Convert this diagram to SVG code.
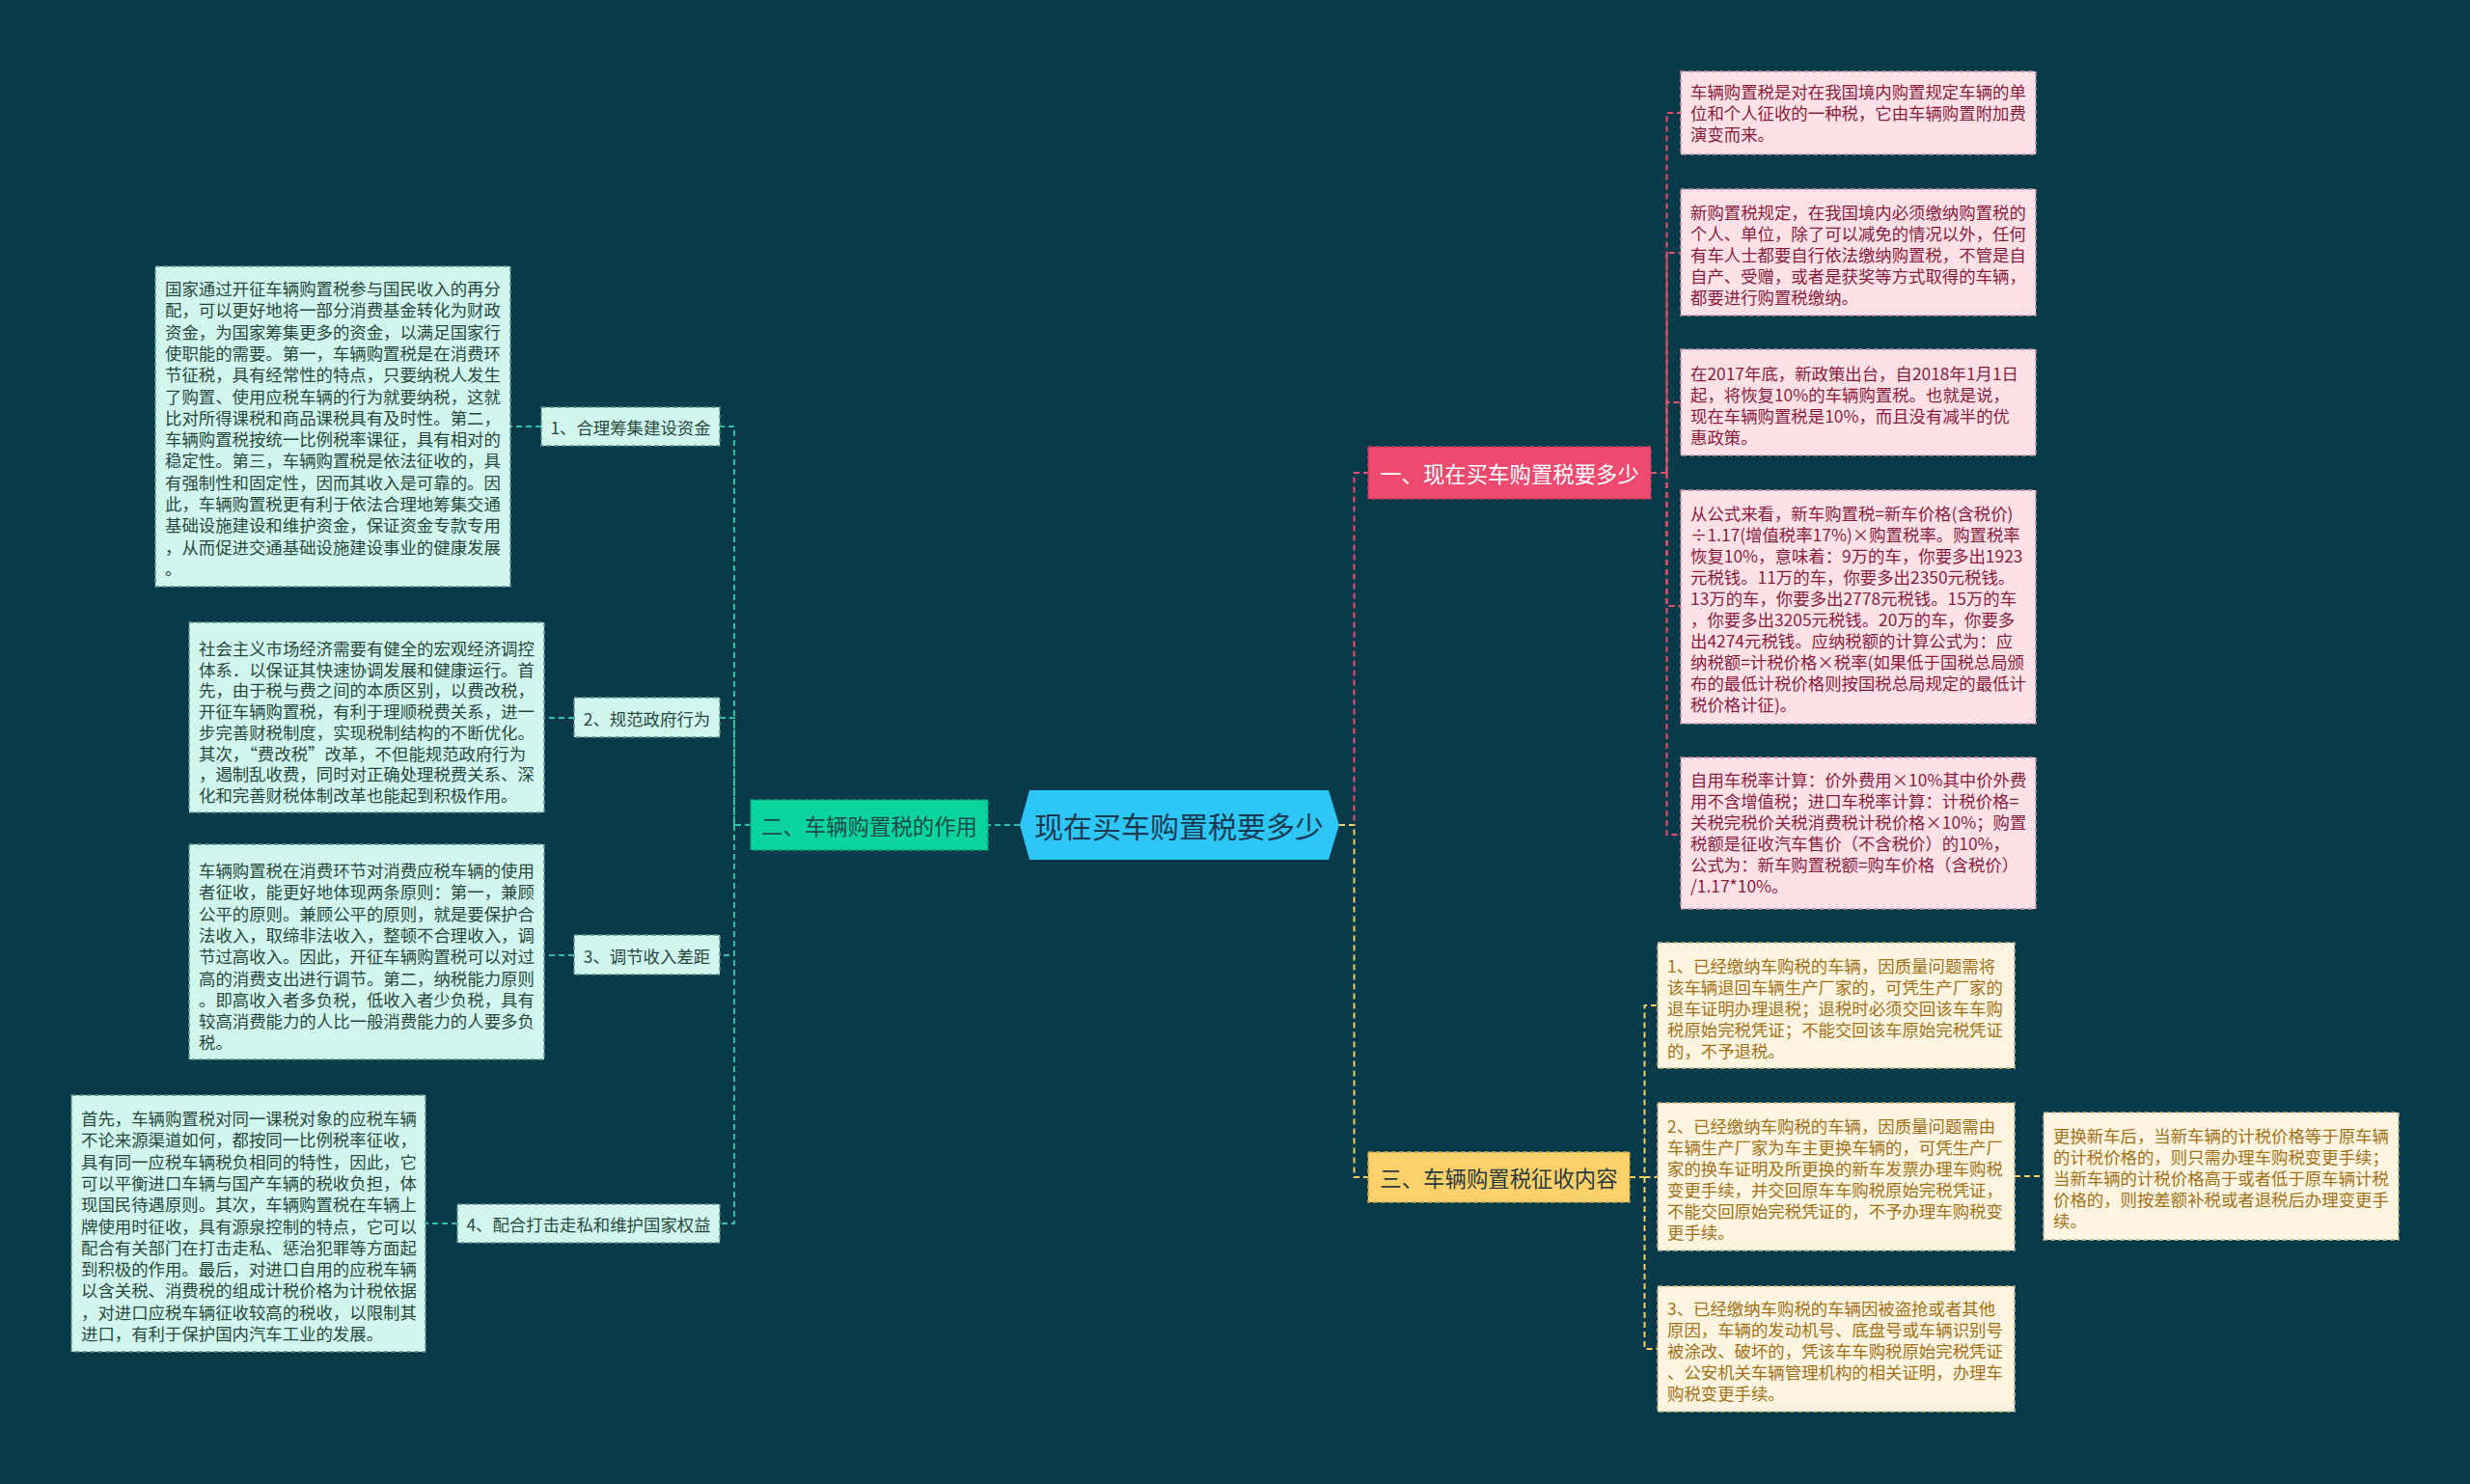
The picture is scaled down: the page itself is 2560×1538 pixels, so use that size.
<svg xmlns="http://www.w3.org/2000/svg" width="2560" height="1538" viewBox="0 0 2560 1538">
<style>
text{font-family:"Noto Sans CJK SC","Noto Sans",sans-serif;dominant-baseline:central}
.t{font-size:17.4px}
.mint{fill:#d0f6ed;stroke:#5d9289;stroke-width:1.5;stroke-dasharray:5 3}
.mt{fill:#29493f}
.pink{fill:#fde1e7;stroke:#c4919c;stroke-width:1.5;stroke-dasharray:5 3}
.pt{fill:#8a1c3e}
.yel{fill:#fdf5df;stroke:#c2b48c;stroke-width:1.5;stroke-dasharray:5 3}
.yt{fill:#a2711a}
.c{fill:none;stroke-width:2;stroke-dasharray:6 4}
.cg{stroke:#2cc3a2}
.cp{stroke:#e8506f}
.cy{stroke:#f3cf64}
</style>
<rect width="2560" height="1538" fill="#083a4a"/>

<g id="connectors">
  <path class="c cg" d="M1057 855 H1024"/>
  <path class="c cg" d="M778 855 H761 V442 H746"/>
  <path class="c cg" d="M761 855 V744 H746"/>
  <path class="c cg" d="M761 855 V990 H746"/>
  <path class="c cg" d="M761 855 V1268 H746"/>
  <path class="c cg" d="M561 442 H529"/>
  <path class="c cg" d="M595 744 H564"/>
  <path class="c cg" d="M595 990 H564"/>
  <path class="c cg" d="M474 1268 H441"/>
  <path class="c cp" d="M1388 855 H1403.5 V490 H1418"/>
  <path class="c cy" d="M1388 855 H1403.5 V1220 H1418"/>
  <path class="c cp" d="M1711 490 H1727.5 V117 H1742"/>
  <path class="c cp" d="M1727.5 490 V262 H1742"/>
  <path class="c cp" d="M1727.5 490 V417 H1742"/>
  <path class="c cp" d="M1727.5 490 V628 H1742"/>
  <path class="c cp" d="M1727.5 490 V865 H1742"/>
  <path class="c cy" d="M1689 1220 H1704.5 V1042 H1718"/>
  <path class="c cy" d="M1704.5 1220 H1718"/>
  <path class="c cy" d="M1704.5 1220 V1398 H1718"/>
  <path class="c cy" d="M2088 1219 H2118"/>
</g>

<g id="center">
  <polygon points="1057,855 1067,819 1377,819 1388,855 1377,891 1067,891" fill="#2ec6f7"/>
  <text x="1222" y="855" text-anchor="middle" font-size="30" fill="#173a50">现在买车购置税要多少</text>
</g>

<g id="n2">
  <rect x="778" y="829" width="246" height="52" fill="#0cd49f" stroke="#0a9f7a" stroke-width="1.5" stroke-dasharray="5 3"/>
  <text x="901" y="855" text-anchor="middle" font-size="22.4" fill="#1b4b4b">二、车辆购置税的作用</text>
</g>

<g id="n1">
  <rect x="1418" y="463" width="293" height="54" fill="#ee4a6f" stroke="#c23a5a" stroke-width="1.5" stroke-dasharray="5 3"/>
  <text x="1564.5" y="490" text-anchor="middle" font-size="22.4" fill="#ffffff">一、现在买车购置税要多少</text>
</g>

<g id="n3">
  <rect x="1418" y="1194" width="271" height="52" fill="#fdd16a" stroke="#c9a24a" stroke-width="1.5" stroke-dasharray="5 3"/>
  <text x="1553.5" y="1220" text-anchor="middle" font-size="22.4" fill="#2b3a40">三、车辆购置税征收内容</text>
</g>

<g id="l1">
  <rect class="mint" x="561" y="422" width="185" height="40"/>
  <text class="t mt" x="653.5" y="442" text-anchor="middle">1、合理筹集建设资金</text>
</g>
<g id="l2">
  <rect class="mint" x="595" y="723" width="151" height="41"/>
  <text class="t mt" x="670.5" y="744" text-anchor="middle">2、规范政府行为</text>
</g>
<g id="l3">
  <rect class="mint" x="595" y="969" width="151" height="41"/>
  <text class="t mt" x="670.5" y="990" text-anchor="middle">3、调节收入差距</text>
</g>
<g id="l4">
  <rect class="mint" x="474" y="1248" width="272" height="40"/>
  <text class="t mt" x="610" y="1268" text-anchor="middle">4、配合打击走私和维护国家权益</text>
</g>

<g id="lb1">
  <rect class="mint" x="161" y="276" width="368" height="332"/>
  <text class="t mt" x="171" y="298">
    <tspan x="171" y="298">国家通过开征车辆购置税参与国民收入的再分</tspan>
    <tspan x="171" dy="22.3">配，可以更好地将一部分消费基金转化为财政</tspan>
    <tspan x="171" dy="22.3">资金，为国家筹集更多的资金，以满足国家行</tspan>
    <tspan x="171" dy="22.3">使职能的需要。第一，车辆购置税是在消费环</tspan>
    <tspan x="171" dy="22.3">节征税，具有经常性的特点，只要纳税人发生</tspan>
    <tspan x="171" dy="22.3">了购置、使用应税车辆的行为就要纳税，这就</tspan>
    <tspan x="171" dy="22.3">比对所得课税和商品课税具有及时性。第二，</tspan>
    <tspan x="171" dy="22.3">车辆购置税按统一比例税率课征，具有相对的</tspan>
    <tspan x="171" dy="22.3">稳定性。第三，车辆购置税是依法征收的，具</tspan>
    <tspan x="171" dy="22.3">有强制性和固定性，因而其收入是可靠的。因</tspan>
    <tspan x="171" dy="22.3">此，车辆购置税更有利于依法合理地筹集交通</tspan>
    <tspan x="171" dy="22.3">基础设施建设和维护资金，保证资金专款专用</tspan>
    <tspan x="171" dy="22.3">，从而促进交通基础设施建设事业的健康发展</tspan>
    <tspan x="171" dy="22.3">。</tspan>
  </text>
</g>

<g id="lb2">
  <rect class="mint" x="196" y="645" width="368" height="197"/>
  <text class="t mt">
    <tspan x="206" y="671">社会主义市场经济需要有健全的宏观经济调控</tspan>
    <tspan x="206" dy="21.7">体系．以保证其快速协调发展和健康运行。首</tspan>
    <tspan x="206" dy="21.7">先，由于税与费之间的本质区别，以费改税，</tspan>
    <tspan x="206" dy="21.7">开征车辆购置税，有利于理顺税费关系，进一</tspan>
    <tspan x="206" dy="21.7">步完善财税制度，实现税制结构的不断优化。</tspan>
    <tspan x="206" dy="21.7">其次，“费改税”改革，不但能规范政府行为</tspan>
    <tspan x="206" dy="21.7">，遏制乱收费，同时对正确处理税费关系、深</tspan>
    <tspan x="206" dy="21.7">化和完善财税体制改革也能起到积极作用。</tspan>
  </text>
</g>

<g id="lb3">
  <rect class="mint" x="196" y="875" width="368" height="223"/>
  <text class="t mt">
    <tspan x="206" y="901">车辆购置税在消费环节对消费应税车辆的使用</tspan>
    <tspan x="206" dy="22.3">者征收，能更好地体现两条原则：第一，兼顾</tspan>
    <tspan x="206" dy="22.3">公平的原则。兼顾公平的原则，就是要保护合</tspan>
    <tspan x="206" dy="22.3">法收入，取缔非法收入，整顿不合理收入，调</tspan>
    <tspan x="206" dy="22.3">节过高收入。因此，开征车辆购置税可以对过</tspan>
    <tspan x="206" dy="22.3">高的消费支出进行调节。第二，纳税能力原则</tspan>
    <tspan x="206" dy="22.3">。即高收入者多负税，低收入者少负税，具有</tspan>
    <tspan x="206" dy="22.3">较高消费能力的人比一般消费能力的人要多负</tspan>
    <tspan x="206" dy="22.3">税。</tspan>
  </text>
</g>

<g id="lb4">
  <rect class="mint" x="74" y="1135" width="367" height="266"/>
  <text class="t mt">
    <tspan x="84" y="1158">首先，车辆购置税对同一课税对象的应税车辆</tspan>
    <tspan x="84" dy="22.3">不论来源渠道如何，都按同一比例税率征收，</tspan>
    <tspan x="84" dy="22.3">具有同一应税车辆税负相同的特性，因此，它</tspan>
    <tspan x="84" dy="22.3">可以平衡进口车辆与国产车辆的税收负担，体</tspan>
    <tspan x="84" dy="22.3">现国民待遇原则。其次，车辆购置税在车辆上</tspan>
    <tspan x="84" dy="22.3">牌使用时征收，具有源泉控制的特点，它可以</tspan>
    <tspan x="84" dy="22.3">配合有关部门在打击走私、惩治犯罪等方面起</tspan>
    <tspan x="84" dy="22.3">到积极的作用。最后，对进口自用的应税车辆</tspan>
    <tspan x="84" dy="22.3">以含关税、消费税的组成计税价格为计税依据</tspan>
    <tspan x="84" dy="22.3">，对进口应税车辆征收较高的税收，以限制其</tspan>
    <tspan x="84" dy="22.3">进口，有利于保护国内汽车工业的发展。</tspan>
  </text>
</g>

<g id="pb1">
  <rect class="pink" x="1742" y="74" width="368" height="86"/>
  <text class="t pt">
    <tspan x="1752" y="94">车辆购置税是对在我国境内购置规定车辆的单</tspan>
    <tspan x="1752" dy="22">位和个人征收的一种税，它由车辆购置附加费</tspan>
    <tspan x="1752" dy="22">演变而来。</tspan>
  </text>
</g>

<g id="pb2">
  <rect class="pink" x="1742" y="196" width="368" height="131"/>
  <text class="t pt">
    <tspan x="1752" y="219">新购置税规定，在我国境内必须缴纳购置税的</tspan>
    <tspan x="1752" dy="22">个人、单位，除了可以减免的情况以外，任何</tspan>
    <tspan x="1752" dy="22">有车人士都要自行依法缴纳购置税，不管是自</tspan>
    <tspan x="1752" dy="22">自产、受赠，或者是获奖等方式取得的车辆，</tspan>
    <tspan x="1752" dy="22">都要进行购置税缴纳。</tspan>
  </text>
</g>

<g id="pb3">
  <rect class="pink" x="1742" y="362" width="368" height="110"/>
  <text class="t pt">
    <tspan x="1752" y="386">在2017年底，新政策出台，自2018年1月1日</tspan>
    <tspan x="1752" dy="22">起，将恢复10%的车辆购置税。也就是说，</tspan>
    <tspan x="1752" dy="22">现在车辆购置税是10%，而且没有减半的优</tspan>
    <tspan x="1752" dy="22">惠政策。</tspan>
  </text>
</g>

<g id="pb4">
  <rect class="pink" x="1742" y="508" width="368" height="242"/>
  <text class="t pt">
    <tspan x="1752" y="531">从公式来看，新车购置税=新车价格(含税价)</tspan>
    <tspan x="1752" dy="22">÷1.17(增值税率17%)×购置税率。购置税率</tspan>
    <tspan x="1752" dy="22">恢复10%，意味着：9万的车，你要多出1923</tspan>
    <tspan x="1752" dy="22">元税钱。11万的车，你要多出2350元税钱。</tspan>
    <tspan x="1752" dy="22">13万的车，你要多出2778元税钱。15万的车</tspan>
    <tspan x="1752" dy="22">，你要多出3205元税钱。20万的车，你要多</tspan>
    <tspan x="1752" dy="22">出4274元税钱。应纳税额的计算公式为：应</tspan>
    <tspan x="1752" dy="22">纳税额=计税价格×税率(如果低于国税总局颁</tspan>
    <tspan x="1752" dy="22">布的最低计税价格则按国税总局规定的最低计</tspan>
    <tspan x="1752" dy="22">税价格计征)。</tspan>
  </text>
</g>

<g id="pb5">
  <rect class="pink" x="1742" y="785" width="368" height="157"/>
  <text class="t pt">
    <tspan x="1752" y="807">自用车税率计算：价外费用×10%其中价外费</tspan>
    <tspan x="1752" dy="22">用不含增值税；进口车税率计算：计税价格=</tspan>
    <tspan x="1752" dy="22">关税完税价关税消费税计税价格×10%；购置</tspan>
    <tspan x="1752" dy="22">税额是征收汽车售价（不含税价）的10%，</tspan>
    <tspan x="1752" dy="22">公式为：新车购置税额=购车价格（含税价）</tspan>
    <tspan x="1752" dy="22">/1.17*10%。</tspan>
  </text>
</g>

<g id="yb1">
  <rect class="yel" x="1718" y="977" width="370" height="130"/>
  <text class="t yt">
    <tspan x="1728" y="1000">1、已经缴纳车购税的车辆，因质量问题需将</tspan>
    <tspan x="1728" dy="22">该车辆退回车辆生产厂家的，可凭生产厂家的</tspan>
    <tspan x="1728" dy="22">退车证明办理退税；退税时必须交回该车车购</tspan>
    <tspan x="1728" dy="22">税原始完税凭证；不能交回该车原始完税凭证</tspan>
    <tspan x="1728" dy="22">的，不予退税。</tspan>
  </text>
</g>

<g id="yb2">
  <rect class="yel" x="1718" y="1143" width="370" height="153"/>
  <text class="t yt">
    <tspan x="1728" y="1166">2、已经缴纳车购税的车辆，因质量问题需由</tspan>
    <tspan x="1728" dy="22">车辆生产厂家为车主更换车辆的，可凭生产厂</tspan>
    <tspan x="1728" dy="22">家的换车证明及所更换的新车发票办理车购税</tspan>
    <tspan x="1728" dy="22">变更手续，并交回原车车购税原始完税凭证，</tspan>
    <tspan x="1728" dy="22">不能交回原始完税凭证的，不予办理车购税变</tspan>
    <tspan x="1728" dy="22">更手续。</tspan>
  </text>
</g>

<g id="yb3">
  <rect class="yel" x="1718" y="1333" width="370" height="130"/>
  <text class="t yt">
    <tspan x="1728" y="1355">3、已经缴纳车购税的车辆因被盗抢或者其他</tspan>
    <tspan x="1728" dy="22">原因，车辆的发动机号、底盘号或车辆识别号</tspan>
    <tspan x="1728" dy="22">被涂改、破坏的，凭该车车购税原始完税凭证</tspan>
    <tspan x="1728" dy="22">、公安机关车辆管理机构的相关证明，办理车</tspan>
    <tspan x="1728" dy="22">购税变更手续。</tspan>
  </text>
</g>

<g id="sb">
  <rect class="yel" x="2118" y="1153" width="368" height="132"/>
  <text class="t yt">
    <tspan x="2128" y="1176">更换新车后，当新车辆的计税价格等于原车辆</tspan>
    <tspan x="2128" dy="22">的计税价格的，则只需办理车购税变更手续；</tspan>
    <tspan x="2128" dy="22">当新车辆的计税价格高于或者低于原车辆计税</tspan>
    <tspan x="2128" dy="22">价格的，则按差额补税或者退税后办理变更手</tspan>
    <tspan x="2128" dy="22">续。</tspan>
  </text>
</g>
</svg>
